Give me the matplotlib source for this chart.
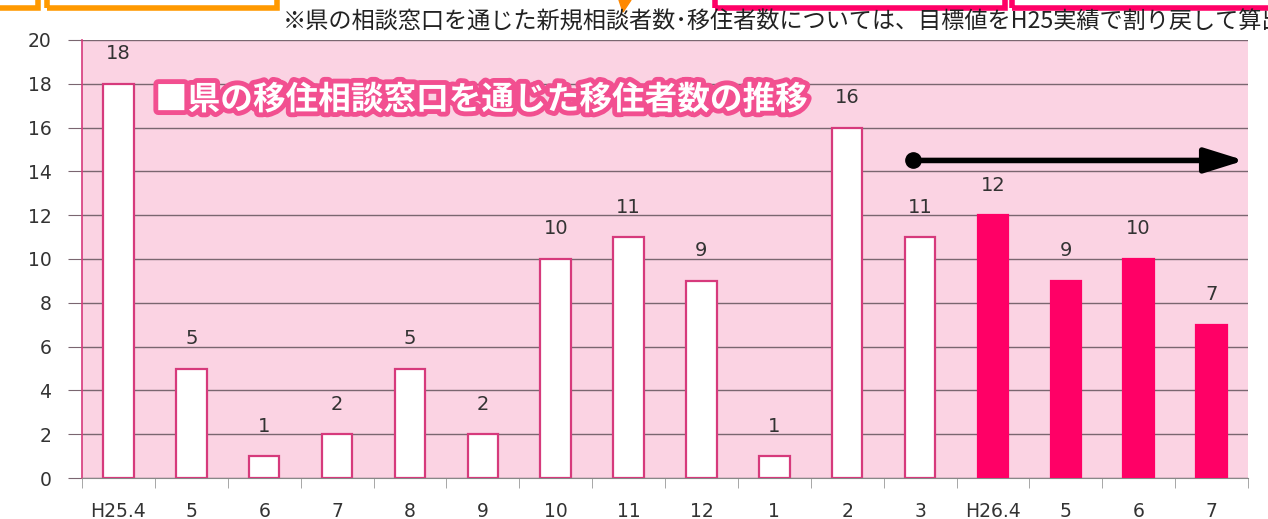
import matplotlib
matplotlib.use("Agg")
import matplotlib.pyplot as plt
import matplotlib.patheffects as pe
from matplotlib.patches import Rectangle
import numpy as np

plt.rcParams['font.family'] = ['Noto Sans CJK JP', 'DejaVu Sans']

# ---- data ----
months = ["H25.4", "5", "6", "7", "8", "9", "10", "11", "12",
          "1", "2", "3", "H26.4", "5", "6", "7"]
movers = [18, 5, 1, 2, 5, 2, 10, 11, 9, 1, 16, 11, 12, 9, 10, 7]
n_h25 = 12  # first 12 months are H25 (white bars), rest H26 (filled)

title = "■県の移住相談窓口を通じた移住者数の推移"
note = "※県の相談窓口を通じた新規相談者数･移住者数については、目標値をH25実績で割り戻して算出"

# ---- styles ----
BG = "#fbd3e3"
PINK = "#ff0066"
EDGE = "#d63a7c"
GRID = "#7a6670"

fig = plt.figure(figsize=(12.68, 5.19), dpi=100)
ax = fig.add_axes([82 / 1268, 41 / 519, 1166 / 1268, 438 / 519])
ax.set_facecolor(BG)

x = np.arange(len(months))
face = ["white"] * n_h25 + [PINK] * (len(months) - n_h25)
edge = [EDGE] * n_h25 + [PINK] * (len(months) - n_h25)
ax.bar(x, movers, width=0.42, color=face, edgecolor=edge, linewidth=1.6, zorder=3)

for xi, v in zip(x, movers):
    ax.annotate(str(v), (xi, v), xytext=(0, 30), textcoords="offset pixels",
                ha="center", va="center", fontsize=14, color="#333333",
                family="DejaVu Sans", zorder=4)

ax.set_xlim(-0.5, len(months) - 0.5)
ax.set_ylim(0, 20)
ax.set_yticks(np.arange(0, 21, 2))
ax.set_xticks(x)
ax.set_xticklabels(months, family="DejaVu Sans")
ax.set_xticks(np.arange(-0.5, len(months), 1), minor=True)
ax.tick_params(axis="x", which="major", length=0, pad=17, labelsize=13.5, labelcolor="#333333")
ax.tick_params(axis="x", which="minor", length=7, color="#999999", direction="out")
ax.tick_params(axis="y", length=10, color=GRID, labelsize=13.5, labelcolor="#333333", pad=12)
for lab in ax.get_yticklabels():
    lab.set_family("DejaVu Sans")
ax.grid(axis="y", color=GRID, linewidth=1.0, zorder=1)
ax.set_axisbelow(True)
ax.spines["top"].set_visible(False)
ax.spines["right"].set_visible(False)
ax.spines["left"].set_color(EDGE)
ax.spines["left"].set_linewidth(1.2)
ax.spines["bottom"].set_color("#888888")

# trend arrow
arrow_start, arrow_end, arrow_y = 10.9, 15.45, 14.5
ax.annotate("", xy=(arrow_end, arrow_y), xytext=(arrow_start, arrow_y),
            arrowprops=dict(arrowstyle="-|>,head_length=2.4,head_width=0.75",
                            color="black", lw=4, shrinkA=0, shrinkB=0),
            annotation_clip=False, zorder=5)
ax.plot([arrow_start], [arrow_y], "o", color="black", markersize=11, zorder=6, clip_on=False)

# overlay title
fig.text(155 / 1268, 1 - 100 / 519, title, fontsize=23.5, fontweight="bold", color="white",
         ha="left", va="center",
         path_effects=[pe.withStroke(linewidth=7, foreground="#f24f90")])

# note at top
fig.text(283 / 1268, 1 - 22 / 519, note, fontsize=16.7, color="#222222", ha="left", va="center")

# partial boxes at top edge
for (x0, x1), col in [((-10, 38), "#ff9900"), ((47, 277), "#ff9900"),
                      ((715, 1005), PINK), ((1012, 1290), PINK)]:
    fig.patches.append(Rectangle((x0 / 1268, 1 - 8 / 519), (x1 - x0) / 1268, 40 / 519,
                                 transform=fig.transFigure, fill=False,
                                 edgecolor=col, linewidth=4))
fig.patches.append(plt.Polygon([[619 / 1268, 1.0], [631 / 1268, 1.0], [623 / 1268, 1 - 12 / 519]],
                               closed=True, transform=fig.transFigure, color="#ff8800"))

fig.savefig("out.png", dpi=100)
